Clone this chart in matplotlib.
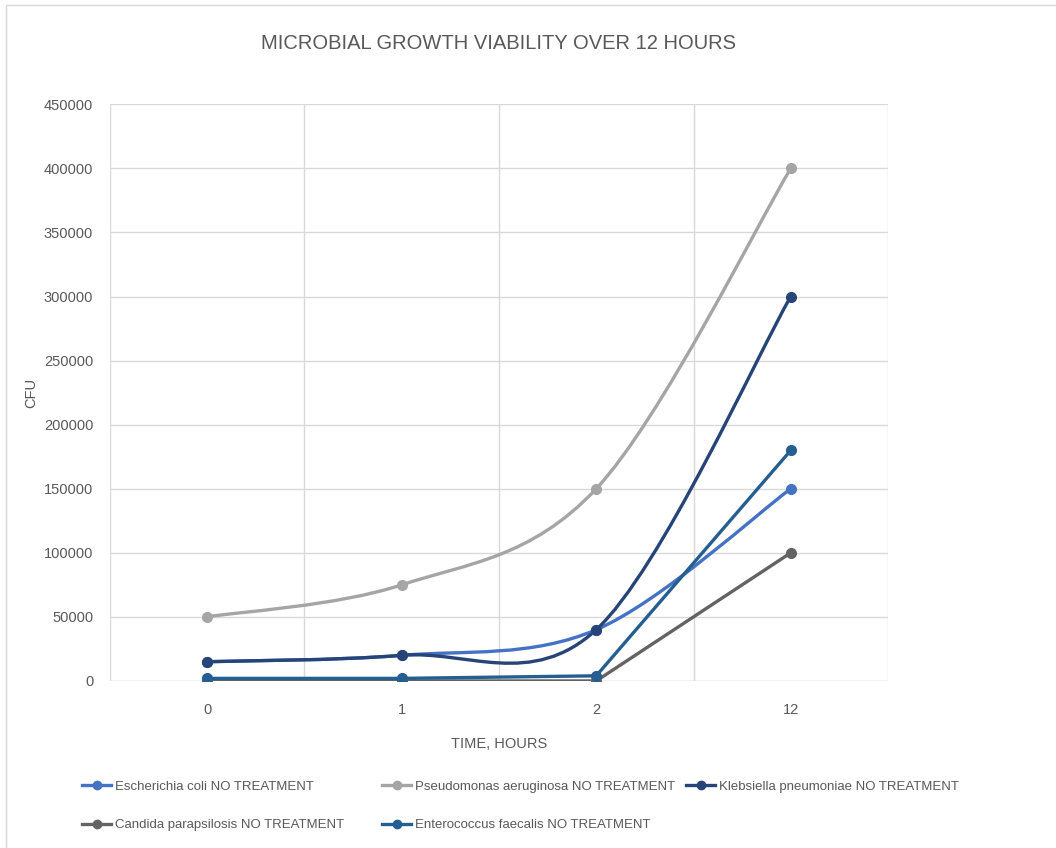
import matplotlib
matplotlib.use("Agg")
import matplotlib.pyplot as plt
from matplotlib.path import Path
from matplotlib.patches import PathPatch, Rectangle
from matplotlib.lines import Line2D

plt.rcParams['font.family'] = ['Liberation Sans', 'DejaVu Sans']

# Datos de crecimiento (UFC) por tiempo
horas = ['0', '1', '2', '12']
e_coli = [15000, 20000, 40000, 150000]
p_aeruginosa = [50000, 75000, 150000, 400000]
k_pneumoniae = [15000, 20000, 40000, 300000]
c_parapsilosis = [0, 0, 0, 100000]
e_faecalis = [2000, 2000, 4000, 180000]

series = [
    ('Escherichia coli NO TREATMENT', e_coli, '#4472C4', True),
    ('Pseudomonas aeruginosa NO TREATMENT', p_aeruginosa, '#A5A5A5', True),
    ('Klebsiella pneumoniae NO TREATMENT', k_pneumoniae, '#264478', True),
    ('Candida parapsilosis NO TREATMENT', c_parapsilosis, '#636363', False),
    ('Enterococcus faecalis NO TREATMENT', e_faecalis, '#255E91', False),
]

gris_texto = '#595959'


def curva_suave(xs, ys):
    # Curva tipo Catmull-Rom con segmentos Bezier cubicos
    pts = list(zip(xs, ys))
    n = len(pts)
    verts = [pts[0]]
    codes = [Path.MOVETO]
    for i in range(n - 1):
        p0 = pts[max(i - 1, 0)]
        p1 = pts[i]
        p2 = pts[i + 1]
        p3 = pts[min(i + 2, n - 1)]
        c1 = (p1[0] + (p2[0] - p0[0]) / 6, p1[1] + (p2[1] - p0[1]) / 6)
        c2 = (p2[0] - (p3[0] - p1[0]) / 6, p2[1] - (p3[1] - p1[1]) / 6)
        verts += [c1, c2, p2]
        codes += [Path.CURVE4] * 3
    return Path(verts, codes)


fig = plt.figure(figsize=(10.56, 8.48), dpi=100)
ax = fig.add_axes([0.104, 0.197, 0.737, 0.680])

x = list(range(len(horas)))
handles = []
for nombre, valores, color, suave in series:
    if suave:
        ax.add_patch(PathPatch(curva_suave(x, valores), facecolor='none',
                               edgecolor=color, lw=2.4, zorder=3))
    else:
        ax.plot(x, valores, color=color, lw=2.4, zorder=3)
    ax.plot(x, valores, 'o', color=color, ms=7, zorder=4)
    handles.append(Line2D([0], [0], color=color, lw=2.4, marker='o', ms=6, label=nombre))

ax.set_xlim(-0.5, len(horas) - 0.5)
ax.set_ylim(0, 450000)
ax.set_yticks(range(0, 450001, 50000))
ax.set_xticks(x)
ax.set_xticklabels(horas)
ax.set_xticks([i + 0.5 for i in range(-1, len(horas))], minor=True)
ax.grid(which='minor', axis='x', color='#D9D9D9', lw=1)
ax.grid(which='major', axis='y', color='#D9D9D9', lw=1)
ax.tick_params(which='both', length=0, colors=gris_texto, labelsize=10.5)
ax.tick_params(axis='x', pad=16)
ax.tick_params(axis='y', pad=12)
for lado in ax.spines.values():
    lado.set_visible(False)
ax.axhline(0, color='#D9D9D9', lw=1, zorder=1)
ax.set_axisbelow(True)

ax.set_title('MICROBIAL GROWTH VIABILITY OVER 12 HOURS', fontsize=14.5, color=gris_texto, pad=40)
ax.set_xlabel('TIME, HOURS', fontsize=10.5, color=gris_texto, labelpad=14)
ax.set_ylabel('CFU', fontsize=10.5, color=gris_texto, labelpad=4)

# Leyenda: cada entrada en su posicion (dos filas)
posiciones = [(0.078, 0.072), (0.362, 0.072), (0.650, 0.072),
              (0.078, 0.027), (0.362, 0.027)]
for h, (px, py) in zip(handles, posiciones):
    leg = fig.legend([h], [h.get_label()], loc='center left', bbox_to_anchor=(px, py),
                     frameon=False, fontsize=9.5, labelcolor=gris_texto,
                     handlelength=2.2, handletextpad=0.3, borderaxespad=0, borderpad=0)

fig.patches.append(Rectangle((0.006, -0.01), 1.2, 1.004, transform=fig.transFigure,
                             fill=False, edgecolor='#D9D9D9', lw=1))

fig.savefig('out.png', dpi=100)
